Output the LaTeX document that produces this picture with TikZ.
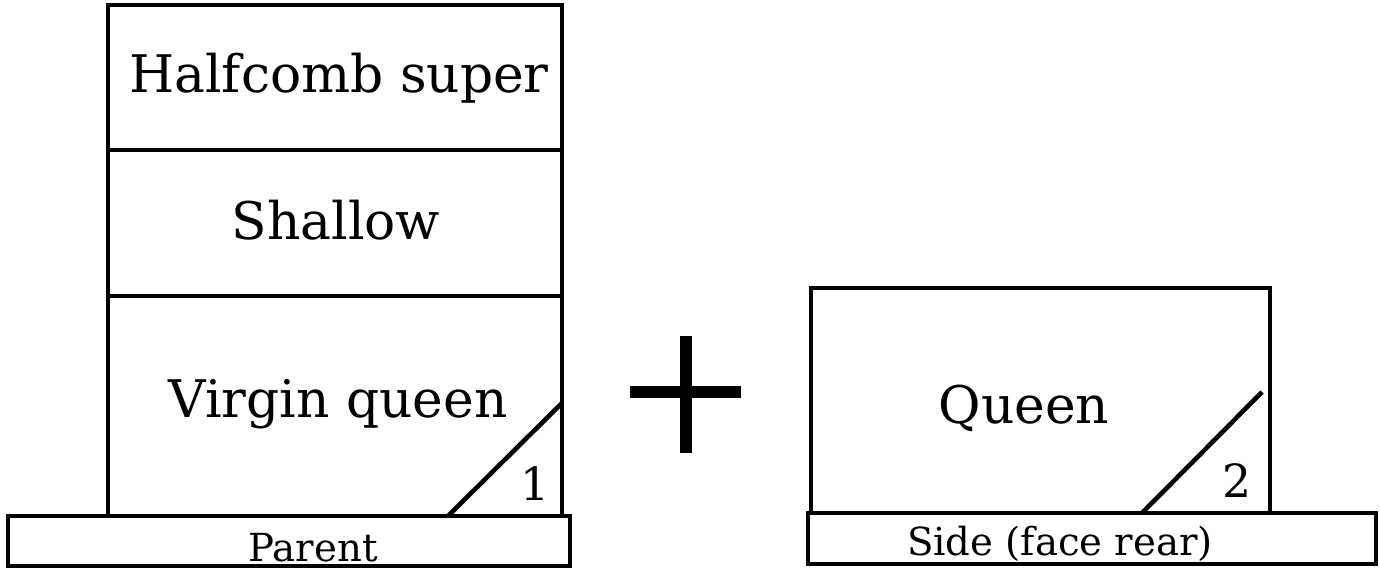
\documentclass[tikz,border=0pt]{standalone}
\usepackage{fontspec}
\setmainfont{DejaVu Serif}
\usepackage{tikz}
\usetikzlibrary{positioning,calc}

\begin{document}
\begin{tikzpicture}[x=0.02cm,y=-0.02cm,line width=2.6pt,
    big/.style={font=\fontsize{29.5}{34}\selectfont},
    small/.style={font=\fontsize{22}{26}\selectfont},
    num/.style={font=\fontsize{26}{30}\selectfont}]
    \useasboundingbox (0,0) rectangle (1380,579);

    % Parent stack
    \draw (108,5) rectangle (562,516);
    \draw (108,150) -- (562,150);
    \draw (108,296) -- (562,296);
    \node[big] (super) at (339,78) {Halfcomb super};
    \node[big] (shallow) at (336,220) {Shallow};
    \node[big] (virgin) at (338,404) {Virgin queen};

    % entrance 1
    \coordinate (e1a) at (448,516);
    \coordinate (e1b) at (562,403);
    \draw (e1a) -- (e1b);
    \node[num] (one) at (535,484) {1};

    % floor
    \draw (8,516) rectangle (570,566);
    \node[small] (parent) at (313,548) {Parent};

    % plus sign
    \draw[line width=6.8pt] (686,336) -- (686,453);
    \draw[line width=6.8pt] (630,392) -- (741,392);

    % Queen box
    \draw (811,288) rectangle (1270,513);
    \node[big] (queen) at (1024,408) {Queen};

    % entrance 2
    \coordinate (e2a) at (1142,513);
    \coordinate (e2b) at (1262,392);
    \draw (e2a) -- (e2b);
    \node[num] (two) at (1237,481) {2};

    % side floor
    \draw (808,513) rectangle (1376,564);
    \node[small] (side) at (1060,544) {Side (face rear)};
\end{tikzpicture}
\end{document}
